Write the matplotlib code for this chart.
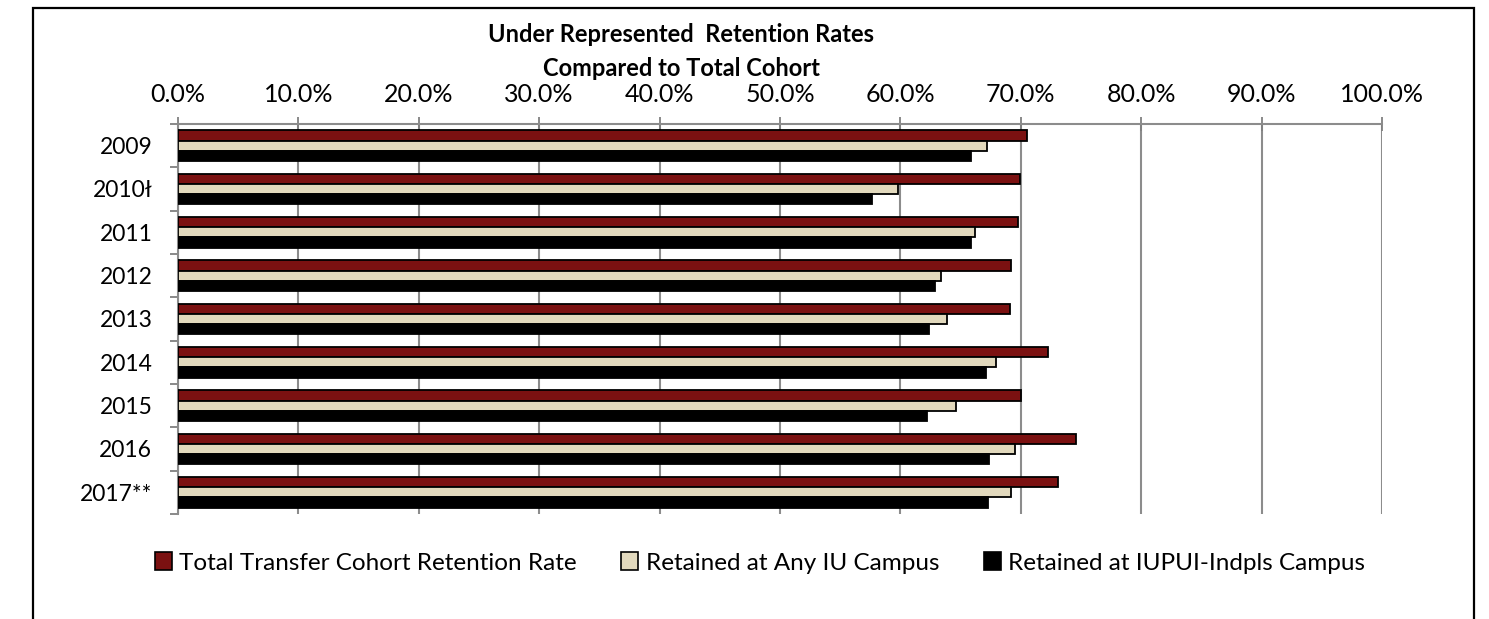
import matplotlib
matplotlib.use("Agg")
import matplotlib.pyplot as plt
import numpy as np
from matplotlib.patches import Rectangle, Patch

years = ["2009", "2010ł", "2011", "2012", "2013", "2014", "2015", "2016", "2017**"]
total_rate = [70.5, 69.9, 69.8, 69.2, 69.1, 72.3, 70.0, 74.6, 73.1]
any_iu = [67.2, 59.8, 66.2, 63.4, 63.9, 67.9, 64.6, 69.5, 69.2]
iupui = [65.9, 57.6, 65.9, 62.9, 62.4, 67.1, 62.2, 67.4, 67.3]
series_names = ["Total Transfer Cohort Retention Rate", "Retained at Any IU Campus",
                "Retained at IUPUI-Indpls Campus"]
xticks = list(range(0, 101, 10))
title_lines = ["Under Represented  Retention Rates", "Compared to Total Cohort"]

colors = ["#7B1111", "#E2D9BD", "#000000"]
plt.rcParams['font.family'] = ['Lato', 'DejaVu Sans']

W, H = 1489, 619
fig = plt.figure(figsize=(W / 100, H / 100), dpi=100)
ax = fig.add_axes([178 / W, 1 - 514 / H, (1382 - 178) / W, (514 - 124) / H])

n = len(years)
y = np.arange(n)
bh = 0.238
for i, (vals, c) in enumerate(zip([total_rate, any_iu, iupui], colors)):
    ax.barh(y - bh + i * bh, vals, height=bh, color=c, edgecolor="black",
            linewidth=1.3, zorder=3)

ax.set_xlim(0, 100)
ax.set_ylim(n - 0.5, -0.5)
ax.xaxis.tick_top()
ax.set_xticks(xticks)
ax.set_xticklabels([f"{v:.1f}%" for v in xticks], fontsize=18)
ax.set_yticks(np.arange(n + 1) - 0.5, minor=False)
ax.set_yticklabels([])
ax.set_yticks(y, minor=True)
ax.set_yticklabels(years, minor=True, fontsize=16.5)
ax.tick_params(axis='y', which='minor', length=0, pad=18.5)
ax.tick_params(axis='y', which='major', length=6, color="#808080", width=1.3)
ax.tick_params(axis='x', length=10, direction='inout', color="#808080", width=1.3, pad=8)
ax.grid(axis='x', color="#8c8c8c", linewidth=1.5, zorder=0)
for s in ["right", "bottom"]:
    ax.spines[s].set_visible(False)
for s in ["top", "left"]:
    ax.spines[s].set_color("#8c8c8c")
    ax.spines[s].set_linewidth(1.5)

fig.text(681 / W, 1 - 35 / H, title_lines[0], ha="center", va="center", fontsize=17,
         fontweight="bold")
fig.text(681 / W, 1 - 68 / H, title_lines[1], ha="center", va="center", fontsize=17,
         fontweight="bold")

handles = [Patch(facecolor=c, edgecolor="black", linewidth=1.2) for c in colors]
fig.legend(handles, series_names, loc="center", bbox_to_anchor=(760 / W, 1 - 563 / H),
           ncol=3, frameon=False, fontsize=17.5, handlelength=0.7, handleheight=0.7,
           handletextpad=0.3, columnspacing=1.85)

fig.patches.append(Rectangle((33 / W, -0.1), (1474 - 33) / W, 1 - 8 / H + 0.1,
                             transform=fig.transFigure, fill=False,
                             edgecolor="black", linewidth=1.6))

fig.savefig("out.png", dpi=100)
